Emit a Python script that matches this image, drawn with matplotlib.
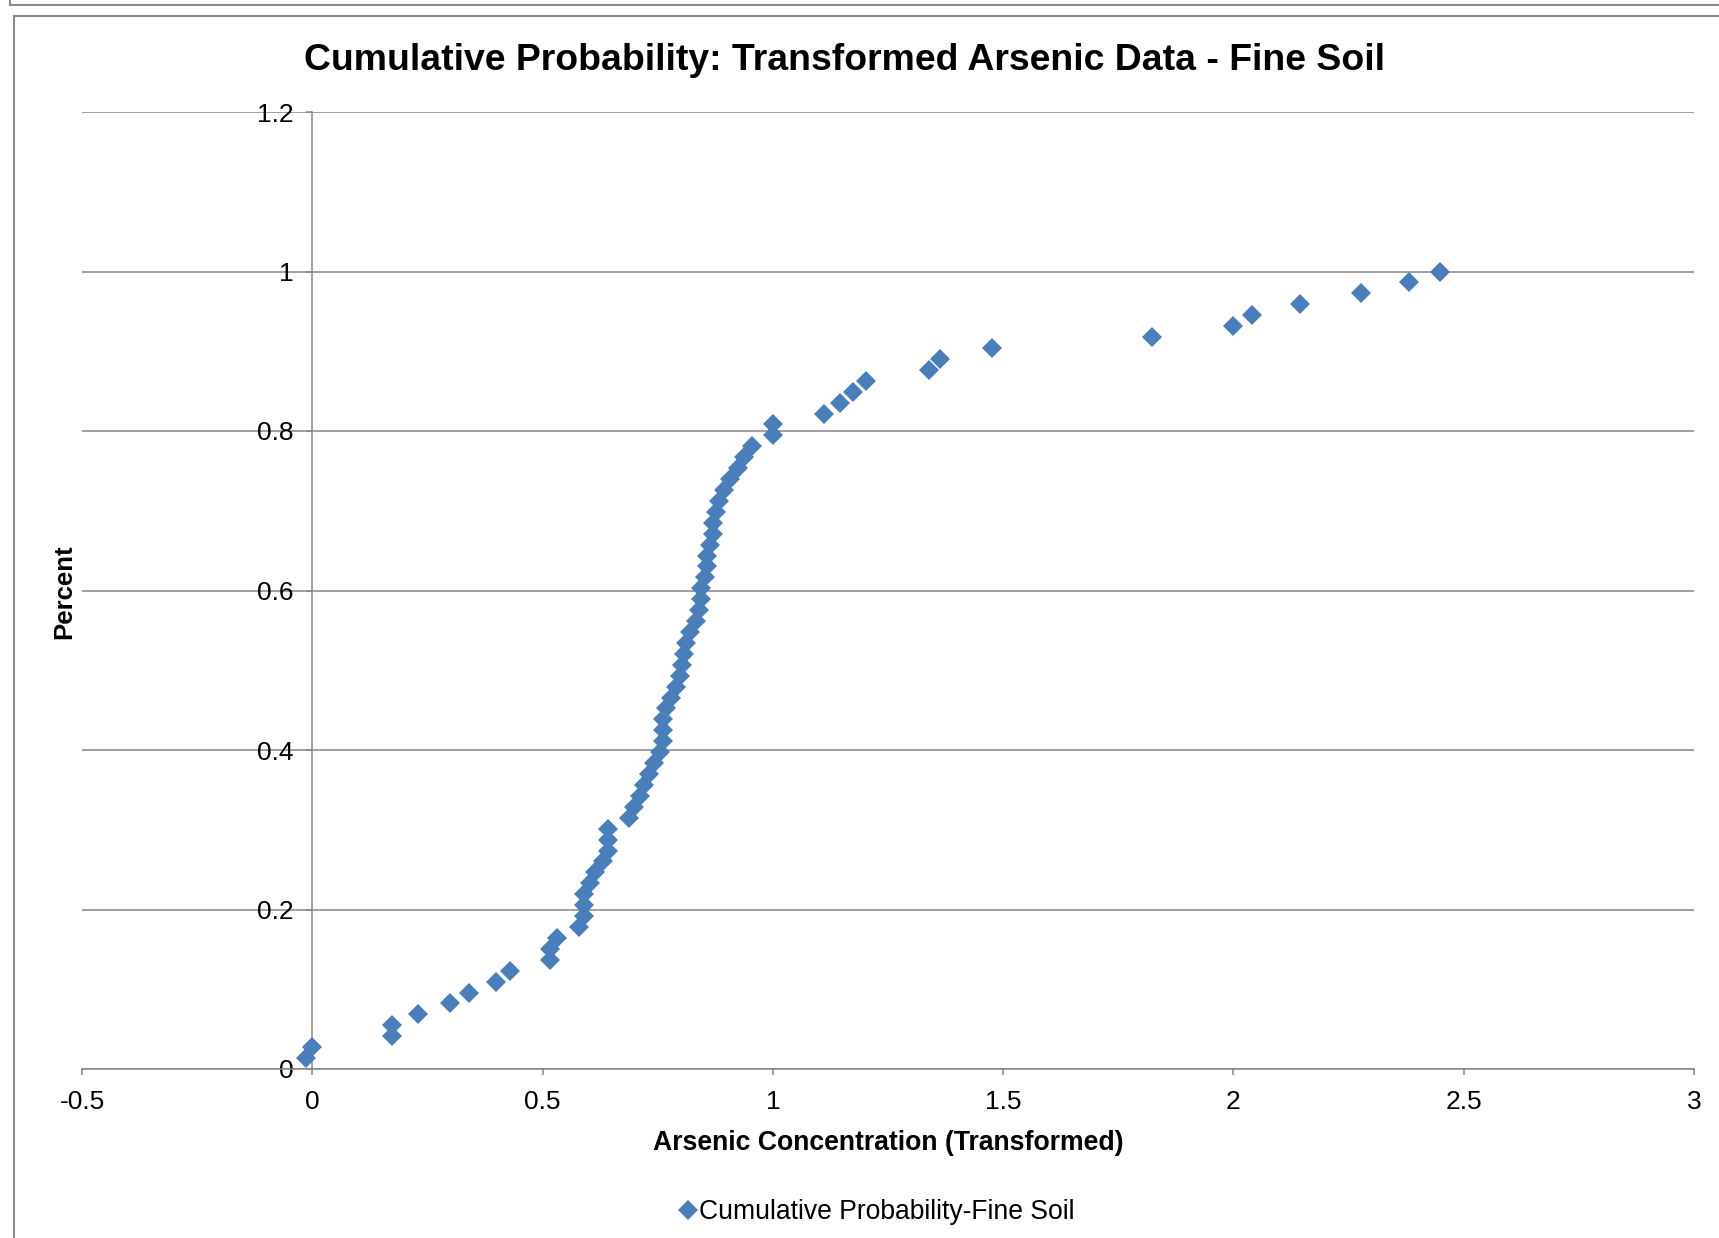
import numpy as np
import matplotlib
matplotlib.use('Agg')
import matplotlib.pyplot as plt
from matplotlib.lines import Line2D

plt.rcParams['font.family'] = ['Liberation Sans', 'DejaVu Sans']

# transformed arsenic values (sorted) and their cumulative probability
arsenic = [
    -0.014, 0.0, 0.174, 0.174, 0.229, 0.298, 0.34, 0.398, 0.429, 0.517,
    0.517, 0.531, 0.579, 0.59, 0.59, 0.59, 0.602, 0.614, 0.631, 0.643,
    0.643, 0.643, 0.688, 0.698, 0.712, 0.721, 0.731, 0.743, 0.755, 0.762,
    0.762, 0.762, 0.769, 0.779, 0.79, 0.798, 0.802, 0.807, 0.812, 0.821,
    0.833, 0.84, 0.845, 0.845, 0.852, 0.857, 0.857, 0.864, 0.869, 0.871,
    0.876, 0.883, 0.893, 0.907, 0.924, 0.938, 0.955, 1.0, 1.0, 1.112,
    1.145, 1.174, 1.202, 1.34, 1.362, 1.476, 1.824, 2.0, 2.04, 2.145,
    2.276, 2.381, 2.448,
]
cum_prob = [(i + 1) / len(arsenic) for i in range(len(arsenic))]

x_ticks = [-0.5, 0, 0.5, 1, 1.5, 2, 2.5, 3]
x_labels = ['-0.5', '0', '0.5', '1', '1.5', '2', '2.5', '3']
y_ticks = [0, 0.2, 0.4, 0.6, 0.8, 1.0, 1.2]
y_labels = ['0', '0.2', '0.4', '0.6', '0.8', '1', '1.2']

W, H = 1719, 1238
GREY = '#868686'
BLUE = '#4A7EBB'

fig = plt.figure(figsize=(W / 100, H / 100), dpi=100)
ax = fig.add_axes([82 / W, 1 - 1069 / H, (1694 - 82) / W, (1069 - 112) / H])

ax.plot(arsenic, cum_prob, linestyle='none', marker='D', markersize=10.5,
        markeredgewidth=0, color=BLUE, label='Cumulative Probability-Fine Soil',
        zorder=3)

ax.set_xlim(-0.5, 3)
ax.set_ylim(0, 1.2)
ax.set_xticks(x_ticks)
ax.set_xticklabels(x_labels)
ax.set_yticks(y_ticks)
ax.set_yticklabels(y_labels)

for s in ['top', 'right']:
    ax.spines[s].set_visible(False)
ax.spines['left'].set_position(('data', 0))
for s in ['left', 'bottom']:
    ax.spines[s].set_color(GREY)
    ax.spines[s].set_linewidth(1.1)
ax.tick_params(axis='both', colors=GREY, labelcolor='black', labelsize=19,
               length=4.5, width=1.1, direction='out')
ax.tick_params(axis='x', pad=10.5)
ax.tick_params(axis='y', pad=9)
ax.grid(axis='y', color=GREY, linewidth=1.1)
ax.set_axisbelow(True)

fig.text(844 / W, 1 - 60 / H,
         'Cumulative Probability: Transformed Arsenic Data - Fine Soil',
         ha='center', va='center', fontsize=26.9, fontweight='bold')
fig.text(888 / W, 1 - 1143 / H, 'Arsenic Concentration (Transformed)',
         ha='center', va='center', fontsize=19.2, fontweight='bold')
fig.text(64 / W, 1 - 592 / H, 'Percent', rotation=90,
         ha='center', va='center', fontsize=18.5, fontweight='bold')

ax.legend(loc='center', bbox_to_anchor=(877 / W, 1 - 1212 / H),
          bbox_transform=fig.transFigure, frameon=False, fontsize=19.1,
          handlelength=0.6, handletextpad=0.1, markerscale=1.0)

# chart-area borders as in the spreadsheet screenshot
def px_line(xs, ys):
    fig.add_artist(Line2D([x / W for x in xs], [1 - y / H for y in ys],
                          transform=fig.transFigure, color='#8c8c8c', linewidth=1.5))

px_line([10, W], [5, 5])
px_line([10, 10], [0, 5])
px_line([14, W], [16, 16])
px_line([14, 14], [16, H])

fig.savefig('out.png', dpi=100)
